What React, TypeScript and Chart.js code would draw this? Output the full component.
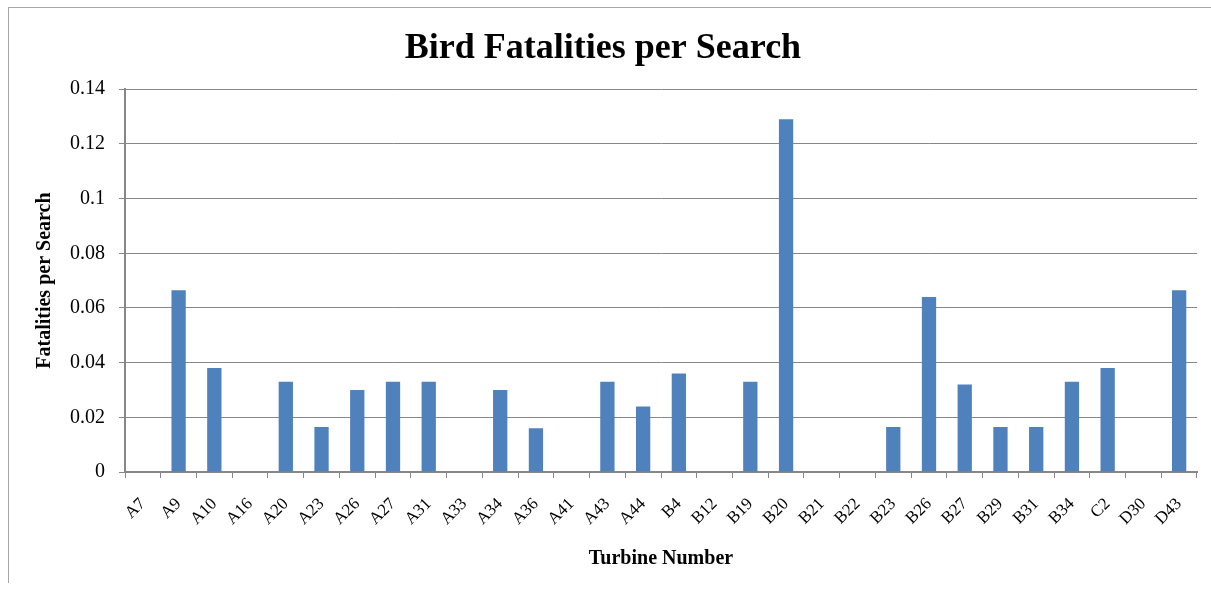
import React, { useEffect, useRef } from "react";
import { Chart, registerables } from "chart.js";

Chart.register(...registerables);

const categories: string[] = [
  "A7", "A9", "A10", "A16", "A20", "A23", "A26", "A27", "A31", "A33",
  "A34", "A36", "A41", "A43", "A44", "B4", "B12", "B19", "B20", "B21",
  "B22", "B23", "B26", "B27", "B29", "B31", "B34", "C2", "D30", "D43",
];

const fatalitiesPerSearch: number[] = [
  0, 0.0665, 0.038, 0, 0.033, 0.0165, 0.03, 0.033, 0.033, 0,
  0.03, 0.016, 0, 0.033, 0.024, 0.036, 0, 0.033, 0.129, 0,
  0, 0.0165, 0.064, 0.032, 0.0165, 0.0165, 0.033, 0.038, 0, 0.0665,
];

const yTicks: number[] = [0, 0.02, 0.04, 0.06, 0.08, 0.1, 0.12, 0.14];
const yTickLabels: string[] = ["0", "0.02", "0.04", "0.06", "0.08", "0.1", "0.12", "0.14"];

const titleText = "Bird Fatalities per Search";
const xTitle = "Turbine Number";
const yTitle = "Fatalities per Search";

const SERIF = "'Liberation Serif', 'Times New Roman', serif";
const GRID = "#878787";

export default function App() {
  const ref = useRef<HTMLCanvasElement | null>(null);

  useEffect(() => {
    if (!ref.current) return;
    const chart = new Chart(ref.current, {
      type: "bar",
      data: {
        labels: categories,
        datasets: [
          {
            data: fatalitiesPerSearch,
            backgroundColor: "#4F81BD",
            borderWidth: 0,
            categoryPercentage: 1,
            barPercentage: 0.4,
          },
        ],
      },
      options: {
        responsive: false,
        animation: false,
        layout: { padding: { left: 0, right: 14, top: 0, bottom: 0 } },
        plugins: {
          legend: { display: false },
          tooltip: { enabled: false },
          title: {
            display: true,
            text: titleText,
            color: "#000",
            font: { family: SERIF, size: 36, weight: "bold" },
            padding: { top: 19, bottom: 19 },
          },
        },
        scales: {
          x: {
            grid: {
              display: true,
              drawOnChartArea: false,
              drawTicks: true,
              tickLength: 6,
              color: GRID,
              lineWidth: 1,
            },
            border: { display: true, color: GRID, width: 2 },
            ticks: {
              autoSkip: false,
              minRotation: 45,
              maxRotation: 45,
              color: "#000",
              padding: 16,
              font: { family: SERIF, size: 17 },
            },
            title: {
              display: true,
              text: xTitle,
              color: "#000",
              font: { family: SERIF, size: 20, weight: "bold" },
              padding: { top: 0, bottom: 12 },
            },
            afterFit: (scale: any) => {
              scale.height = 111;
            },
          },
          y: {
            min: 0,
            max: 0.14,
            afterBuildTicks: (scale: any) => {
              scale.ticks = yTicks.map((v) => ({ value: v }));
            },
            grid: {
              color: GRID,
              lineWidth: 1,
              drawTicks: true,
              tickLength: 6,
            },
            border: { display: true, color: GRID, width: 2 },
            ticks: {
              color: "#000",
              padding: 14,
              font: { family: SERIF, size: 20 },
              callback: (value: any) => {
                const i = yTicks.findIndex((t) => Math.abs(t - Number(value)) < 1e-9);
                return i >= 0 ? yTickLabels[i] : "";
              },
            },
            title: {
              display: true,
              text: yTitle,
              color: "#000",
              font: { family: SERIF, size: 20, weight: "bold" },
              padding: { top: 24, bottom: 0 },
            },
            afterFit: (scale: any) => {
              scale.width = 116;
            },
          },
        },
      },
    });
    return () => chart.destroy();
  }, []);

  return (
    <div
      style={{
        position: "absolute",
        left: 8,
        top: 7,
        width: 1203,
        height: 576,
        boxSizing: "border-box",
        borderTop: "1px solid #a6a6a6",
        borderLeft: "1px solid #a6a6a6",
        overflow: "hidden",
      }}
    >
      <canvas ref={ref} width={1202} height={575} style={{ display: "block" }} />
    </div>
  );
}
